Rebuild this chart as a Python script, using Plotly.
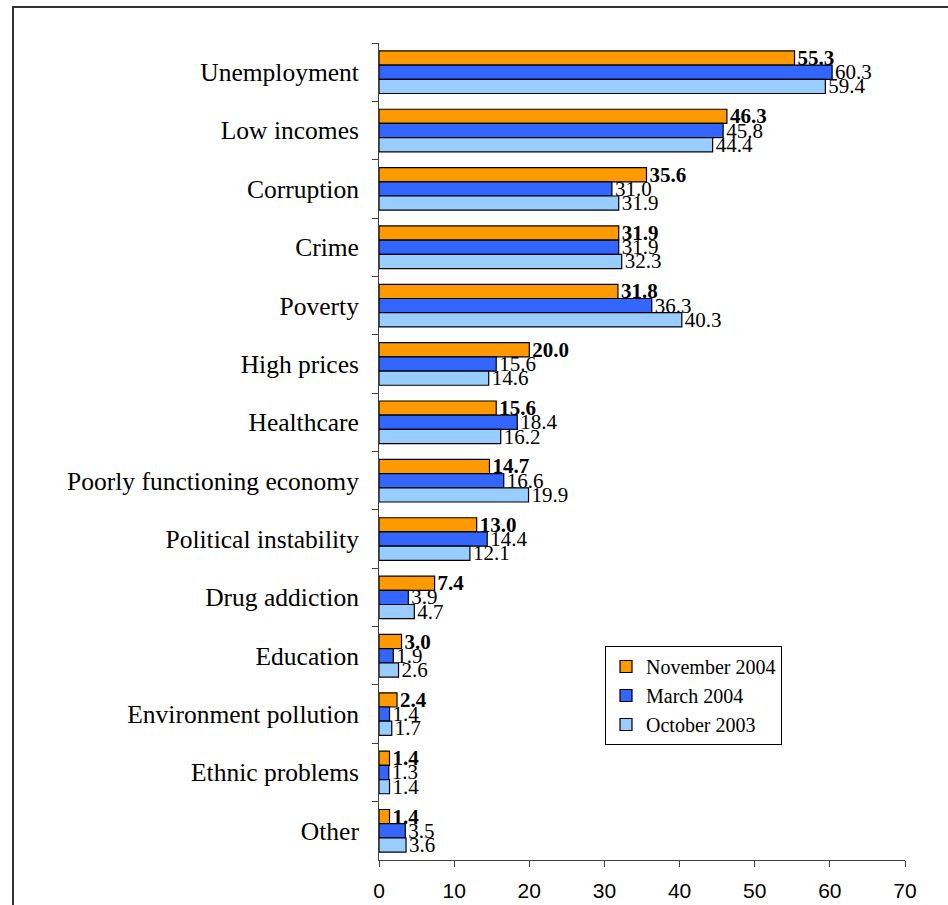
import plotly.graph_objects as go

categories = ["Unemployment", "Low incomes", "Corruption", "Crime", "Poverty",
              "High prices", "Healthcare", "Poorly functioning economy",
              "Political instability", "Drug addiction", "Education",
              "Environment pollution", "Ethnic problems", "Other"]
nov_2004 = [55.3, 46.3, 35.6, 31.9, 31.8, 20.0, 15.6, 14.7, 13.0, 7.4, 3.0, 2.4, 1.4, 1.4]
mar_2004 = [60.3, 45.8, 31.0, 31.9, 36.3, 15.6, 18.4, 16.6, 14.4, 3.9, 1.9, 1.4, 1.3, 3.5]
oct_2003 = [59.4, 44.4, 31.9, 32.3, 40.3, 14.6, 16.2, 19.9, 12.1, 4.7, 2.6, 1.7, 1.4, 3.6]
series_names = ["November 2004", "March 2004", "October 2003"]
colors = ["#FF9900", "#3366FF", "#99CCFF"]

W, H = 948, 905
ML, MR, MT, MB = 379, 43, 43, 45
PW, PH = W - ML - MR, H - MT - MB

fig = go.Figure()
for i, (name, vals, col) in enumerate(zip(series_names, [nov_2004, mar_2004, oct_2003], colors)):
    fig.add_trace(go.Bar(
        name=name, y=categories, x=vals, orientation="h",
        marker=dict(color=col, line=dict(color="#000000", width=1.2)),
        texttemplate=("<b>%{x:.1f}</b>" if i == 0 else "%{x:.1f}"),
        textposition="outside", constraintext="none", cliponaxis=False,
        textfont=dict(family="Liberation Serif", size=21, color="#000000"),
        hoverinfo="x+y",
    ))

fig.update_layout(
    width=W, height=H,
    margin=dict(l=ML, r=MR, t=MT, b=MB),
    paper_bgcolor="white", plot_bgcolor="white",
    barmode="group", bargap=0.27, bargroupgap=0,
    showlegend=True,
    legend=dict(
        x=(605 - ML) / PW, y=1 - (646 - MT) / PH, xanchor="left", yanchor="top",
        bgcolor="white", bordercolor="#000000", borderwidth=1,
        font=dict(family="Liberation Serif", size=20, color="#000000"),
        traceorder="normal", itemwidth=30, tracegroupgap=0,
    ),
    xaxis=dict(
        range=[0, 70], dtick=10, showgrid=False, zeroline=False,
        showline=True, linecolor="#404040", linewidth=1,
        ticks="outside", ticklen=6, tickcolor="#404040",
        ticklabelstandoff=6, automargin=False,
        tickfont=dict(family="Liberation Sans", size=21, color="#000000"),
    ),
    yaxis=dict(
        autorange="reversed", showgrid=False, zeroline=False,
        showline=True, linecolor="#404040", linewidth=1,
        ticks="outside", ticklen=6, tickcolor="#404040", tickson="boundaries",
        ticklabelstandoff=14, automargin=False,
        tickfont=dict(family="Liberation Serif", size=25.5, color="#000000"),
    ),
    shapes=[dict(
        type="rect", xref="paper", yref="paper",
        x0=(13 - ML) / PW, x1=(960 - ML) / PW,
        y0=1 + (MT - 920) / PH, y1=1 + (MT - 7) / PH,
        line=dict(color="#333333", width=2), fillcolor="rgba(0,0,0,0)", layer="below",
    )],
)

fig.write_html("out.html")
